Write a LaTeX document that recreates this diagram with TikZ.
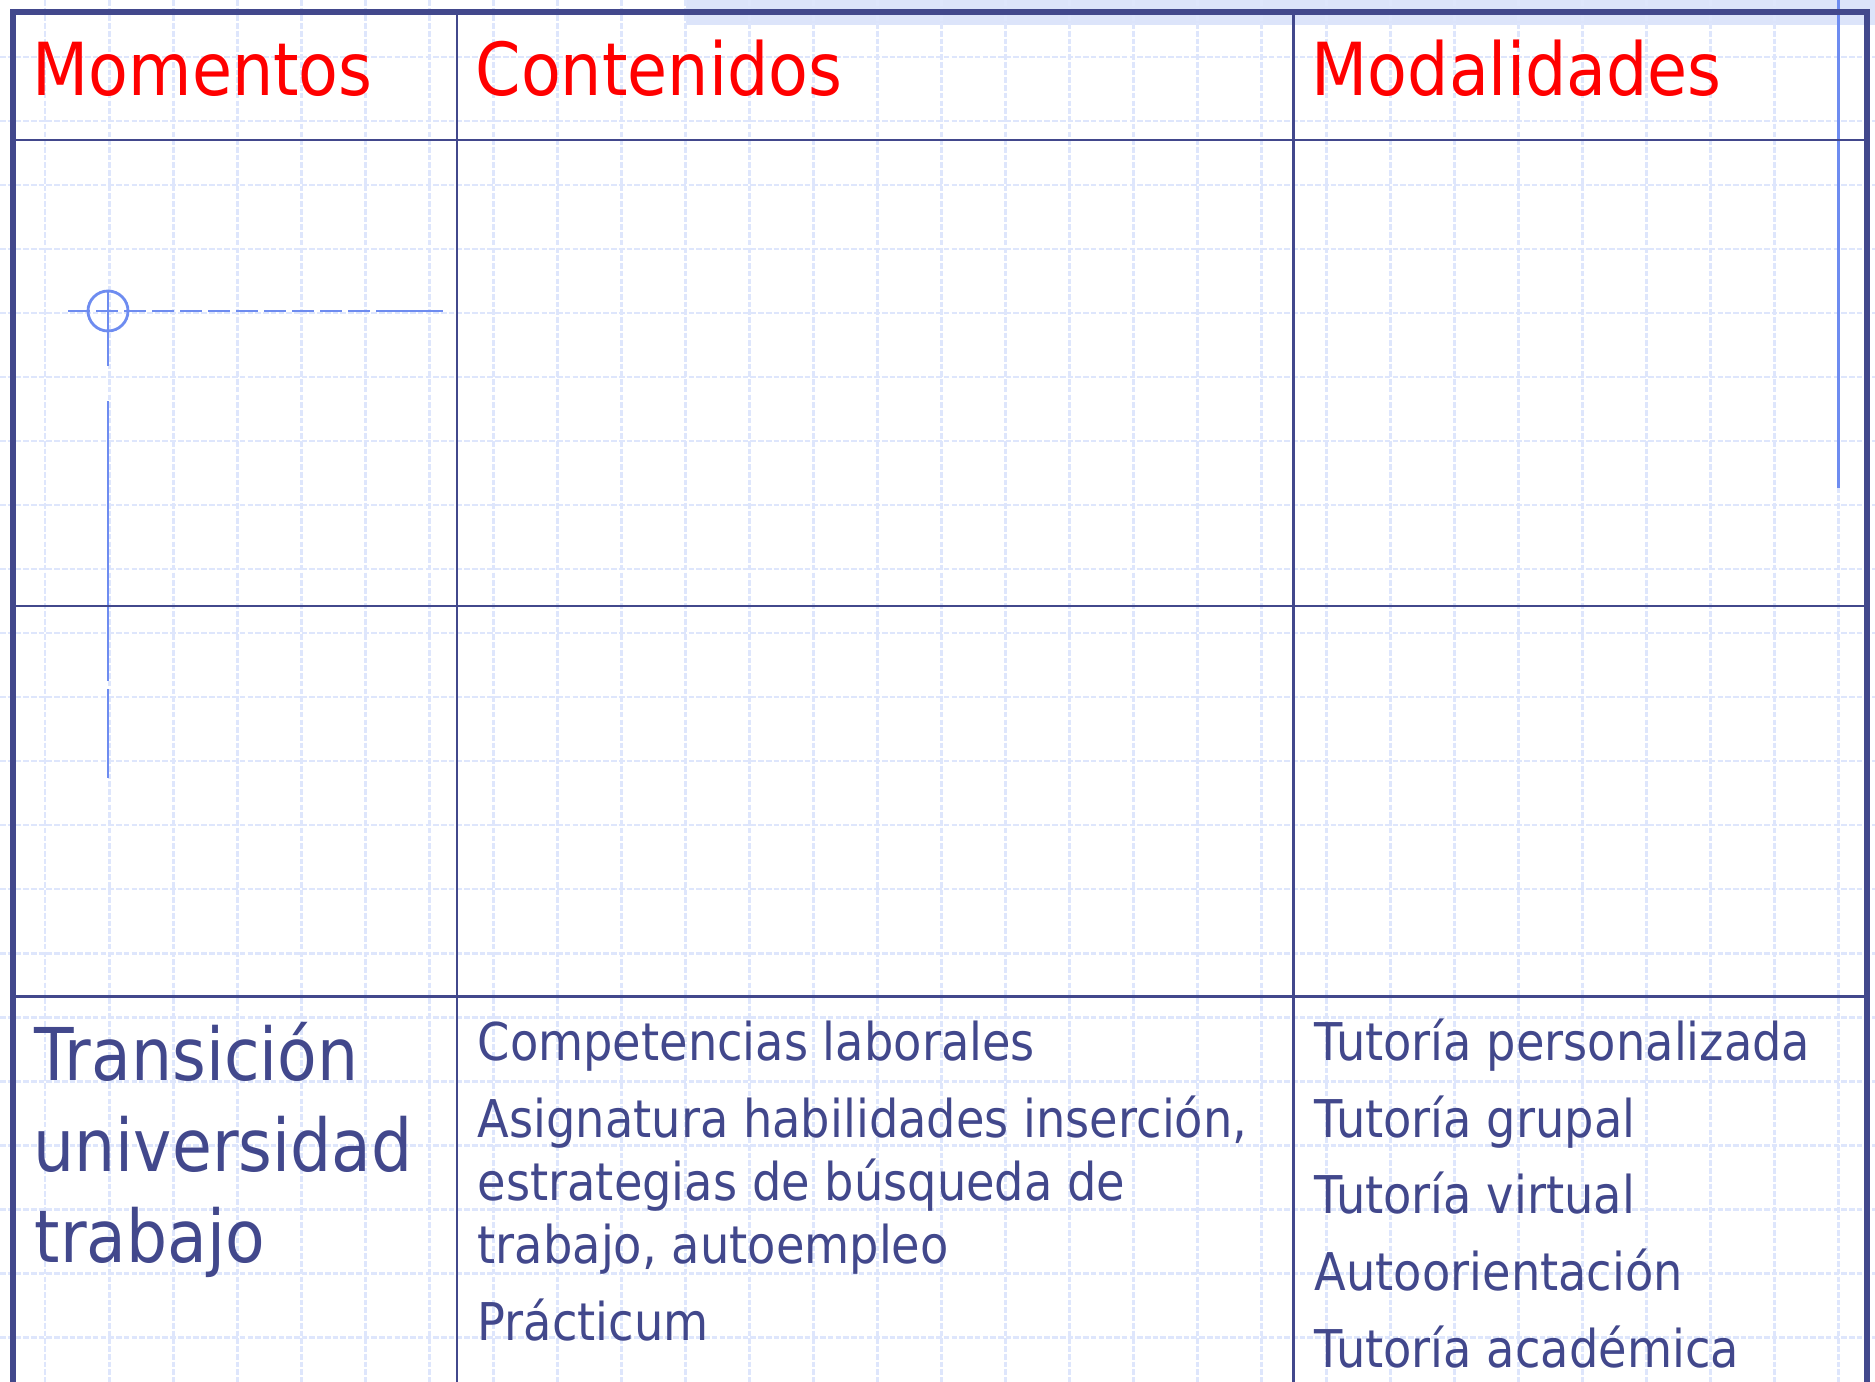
\documentclass[tikz,border=0pt]{standalone}
\usepackage{fontspec}
\setmainfont{DejaVu Sans}[FakeStretch=0.89]
\definecolor{tblue}{RGB}{66,72,140}
\definecolor{tred}{RGB}{255,0,0}
\definecolor{lblue}{RGB}{110,140,240}
\definecolor{gridc}{RGB}{222,230,252}
\definecolor{bandc}{RGB}{220,228,250}
\begin{document}
\begin{tikzpicture}[x=0.01cm,y=-0.01cm,
  gridline/.style={draw=gridc,line width=0.85pt,dash pattern=on 1.6pt off 0.6pt},
  frameline/.style={draw=tblue,line width=1.8pt,line join=miter},
  ruleline/.style={draw=tblue,line width=0.85pt},
  crossline/.style={draw=lblue,line width=0.8pt},
  headtxt/.style={anchor=base west,inner sep=0pt,text=tred,font=\fontsize{20.8pt}{24pt}\selectfont},
  lefttxt/.style={anchor=base west,inner sep=0pt,text=tblue,font=\fontsize{20.7pt}{24pt}\selectfont},
  celltxt/.style={anchor=base west,inner sep=0pt,text=tblue,font=\fontsize{14.8pt}{18pt}\selectfont}]
\useasboundingbox (0,0) rectangle (1875,1382);
\fill[white] (0,0) rectangle (1875,1382);
% hatched band at top
\fill[bandc] (686,0) rectangle (1875,25);
% background grid
\foreach \i in {0,...,28} \draw[gridline] ({45+64.05*\i},0) -- ({45+64.05*\i},1382);
\foreach \j in {0,...,20} \draw[gridline] (0,{57+64*\j}) -- (1875,{57+64*\j});
% crosshair marker
\coordinate (hA) at (68,311);
\coordinate (hB) at (381,311);
\coordinate (hC) at (443,311);
\draw[crossline,dash pattern=on 0.22cm off 0.06cm] (hA) -- (hB);
\draw[crossline] (hB) -- (hC);
\draw[crossline] (108,311) circle[radius=20];
\draw[crossline] (108,290) -- (108,366);
\draw[crossline] (108,401) -- (108,681);
\draw[crossline] (108,689) -- (108,778);
\draw[draw=lblue,line width=0.85pt] (1838,0) -- (1838,488);
% table
\draw[ruleline] (13,140) -- (1867,140);
\draw[ruleline] (13,606) -- (1867,606);
\draw[ruleline] (13,996) -- (1867,996);
\draw[ruleline] (457,12) -- (457,1382);
\draw[ruleline] (1293,12) -- (1293,1382);
\draw[frameline] (13,1382) -- (13,12) -- (1867,12) -- (1867,1382);
% headings
\node[headtxt] (h1) at (32,96) {Momentos};
\node[headtxt] (h2) at (475,96) {Contenidos};
\node[headtxt] (h3) at (1311,96) {Modalidades};
% left column
\node[lefttxt] (m1) at (34,1080) {Transición};
\node[lefttxt] (m2) at (33,1171) {universidad};
\node[lefttxt] (m3) at (34,1262) {trabajo};
% middle column
\node[celltxt] (c1) at (477,1060) {Competencias laborales};
\node[celltxt] (c2) at (477,1137) {Asignatura habilidades inserción,};
\node[celltxt] (c3) at (477,1200) {estrategias de búsqueda de};
\node[celltxt] (c4) at (477,1263) {trabajo, autoempleo};
\node[celltxt] (c5) at (477,1340) {Prácticum};
% right column
\node[celltxt] (r1) at (1314,1060) {Tutoría personalizada};
\node[celltxt] (r2) at (1314,1137) {Tutoría grupal};
\node[celltxt] (r3) at (1314,1213) {Tutoría virtual};
\node[celltxt] (r4) at (1314,1290) {Autoorientación};
\node[celltxt] (r5) at (1314,1367) {Tutoría académica};
\end{tikzpicture}
\end{document}
